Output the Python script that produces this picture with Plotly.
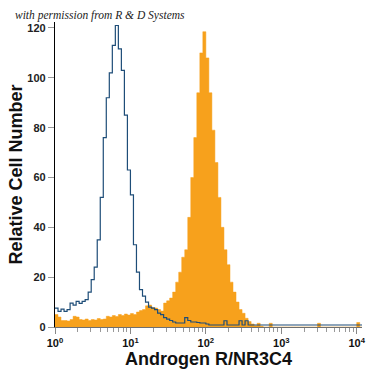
import numpy as np
import plotly.graph_objects as go

# Histogram bins: log10 width of each channel bin, starting at 10^0
bin_log_width = 0.04

# Isotype control (blue outline), counts per bin
control_counts = [
    7.6, 6.3, 7.2, 6.3, 7.0, 9.6, 8.8, 10.3, 9.5, 10.3,
    11, 14, 19, 24, 35, 52, 76, 92, 102, 113,
    121, 111.6, 103, 85, 63, 53, 33, 22, 15, 12.4,
    10, 8, 7.6, 7, 5.6, 5, 3.8, 3.2, 2.6, 2,
    1.6, 1.6, 1.6, 3.8, 2.6, 2, 2, 1.8, 1.6, 1.6,
    1.2, 0.8, 0.8, 0.8, 0.8, 0.8, 2.5, 0.8, 0.8, 0.8,
    0.8, 2.5, 0.8, 2.5, 0.8, 0.8, 0.8, 0.8, 0.8, 0.8,
    0.8, 0.8, 0.8, 0.8, 0.8, 0.8, 0.8, 0.8, 0.8, 0.8,
    0.8, 0.8, 0.8, 0.8, 0.8, 0.8, 0.8, 0.8, 0.8, 0.8,
    0.8, 0.8, 0.8, 0.8, 0.8, 0.8, 0.8, 0.8, 0.8, 0.8,
    0.8, 0.8,
]

# Androgen R/NR3C4 stained (orange filled), counts per bin
stained_counts = [
    5, 4, 2.6, 2.6, 2.4, 3, 4.3, 4, 3, 2.8,
    3.2, 2.6, 3, 2.8, 3.4, 3, 3.2, 4.3, 4, 4.6,
    4.2, 5, 4.6, 5.2, 4.8, 5.4, 5, 6, 6.6, 7,
    8.5, 8.8, 7.8, 7.6, 7, 6.4, 9.6, 10.5, 11.6, 14,
    18, 22, 28, 31, 44, 60, 76, 94, 110, 118.5,
    108, 94, 79, 66, 52, 40, 31, 25, 18, 14,
    10, 7, 5.5, 3.5, 2.2, 1.2, 0.5, 1.5, 0.3, 0,
    0, 1.5, 0, 0, 0, 0, 0, 0, 0, 0,
    0, 0, 0, 0, 0, 0, 0, 1.5, 0, 0,
    0, 0, 0, 0, 0, 0, 0, 0, 0, 0,
    1.8, 0,
]

tick_values = [1, 10, 100, 1000, 10000]
tick_labels = ["10<sup>0</sup>", "10<sup>1</sup>", "10<sup>2</sup>",
               "10<sup>3</sup>", "10<sup>4</sup>"]
y_ticks = [0, 20, 40, 60, 80, 100, 120]


def step_xy(counts):
    n = len(counts)
    edges = 10 ** (np.arange(n + 1) * bin_log_width)
    ys = list(counts) + [counts[-1]]
    return edges, ys


sx, sy = step_xy(stained_counts)
cx, cy = step_xy(control_counts)

fig = go.Figure()
fig.add_trace(go.Scatter(
    x=sx, y=sy, mode="lines", line=dict(shape="hv", width=0.5, color="#F7A11C"),
    fill="tozeroy", fillcolor="#F7A11C", hoverinfo="skip", showlegend=False,
))
fig.add_trace(go.Scatter(
    x=cx, y=cy, mode="lines", line=dict(shape="hv", width=1.2, color="#1E4D78"),
    hoverinfo="skip", showlegend=False,
))

fig.update_layout(
    width=375, height=375,
    margin=dict(l=55, r=9, t=22, b=47),
    paper_bgcolor="white", plot_bgcolor="white",
    font=dict(family="Liberation Sans, Arial, sans-serif", color="#111"),
    xaxis=dict(
        type="log", range=[0, 4.07],
        tickvals=tick_values, ticktext=tick_labels,
        ticks="outside", ticklen=6, tickcolor="#888", tickwidth=1,
        showline=True, linecolor="#6f6f6f", linewidth=1,
        showgrid=False, zeroline=False,
        tickfont=dict(size=11, weight="bold", color="#111"),
        minor=dict(ticks="outside", ticklen=4, tickcolor="#999", dtick="D1", showgrid=False),
        title=dict(text="Androgen R/NR3C4", standoff=4,
                   font=dict(family="Liberation Sans, Arial", size=18,
                             weight="bold", color="#111")),
    ),
    yaxis=dict(
        range=[0, 122.4], tickvals=y_ticks,
        ticks="outside", ticklen=6, tickcolor="#999", tickwidth=1,
        showline=True, linecolor="#000", linewidth=1.2,
        showgrid=False, zeroline=False,
        tickfont=dict(size=11, weight="bold", color="#222"),
        title=dict(text="Relative Cell Number", standoff=0,
                   font=dict(size=18, weight="bold", color="#111")),
    ),
    annotations=[dict(
        text="with permission from R &amp; D Systems", xref="paper", yref="paper",
        x=-0.138, y=1.02, xanchor="left", yanchor="middle", showarrow=False,
        font=dict(family="Liberation Serif, DejaVu Serif, serif", size=11.5,
                  style="italic", color="#222"),
    )],
)

fig.write_html(
    "out.html",
    config={"displayModeBar": False},
    post_script="document.body.style.margin='0';document.body.style.padding='0';",
)
